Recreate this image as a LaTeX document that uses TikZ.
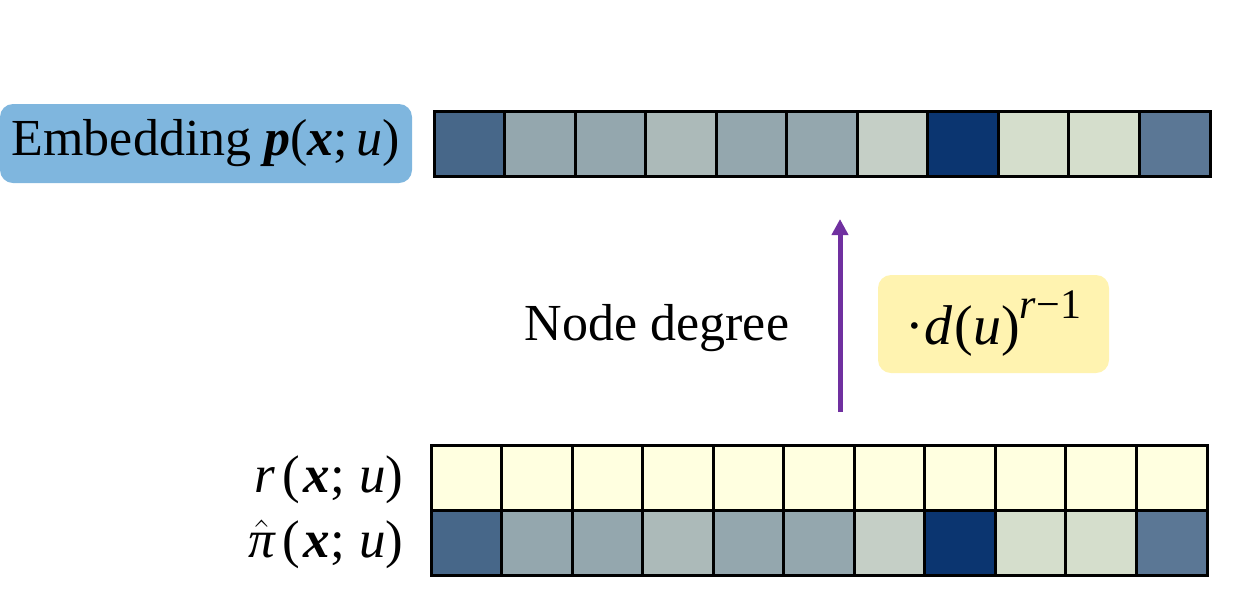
\documentclass[tikz,border=0pt]{standalone}
\usepackage{fontspec}
\setmainfont{Liberation Serif}
\usetikzlibrary{arrows.meta}

\definecolor{cA}{HTML}{476789}
\definecolor{cB}{HTML}{94A7AE}
\definecolor{cC}{HTML}{ACBAB9}
\definecolor{cD}{HTML}{C5CFC6}
\definecolor{cE}{HTML}{0B3570}
\definecolor{cF}{HTML}{D5DECC}
\definecolor{cG}{HTML}{5B7795}
\definecolor{resid}{HTML}{FFFFE0}
\definecolor{embblue}{HTML}{7FB6DE}
\definecolor{degyellow}{HTML}{FFF3B0}
\definecolor{arrowpurple}{HTML}{7030A0}

\newcommand{\bx}{\textbf{\textit{x}}}
\newcommand{\bp}{\textbf{\textit{p}}}

\tikzset{
  cell/.style={draw=black, line width=1.5pt, anchor=north west,
    minimum width=35.27pt, minimum height=32.5pt, inner sep=0pt, outer sep=0pt},
  tag/.style={font=\fontsize{26}{30}\selectfont, inner sep=0pt},
  rowtag/.style={font=\fontsize{26.5}{30}\selectfont, inner sep=0pt, anchor=base east},
  tagbox/.style={tag, rounded corners=6.5pt, inner sep=0pt},
  flow/.style={draw=arrowpurple, line width=2.5pt,
    -{Triangle[width=8pt,length=8pt]}}
}

\begin{document}
\begin{tikzpicture}[x=0.5pt, y=-0.5pt]
  \useasboundingbox (0,0) rectangle (1248,612);

  % embedding vector p(x;u)
  \foreach \c [count=\i from 0] in {cA,cB,cB,cC,cB,cB,cD,cE,cF,cF,cG}
    \node[cell, fill=\c] (p\i) at ({434+70.55*\i},111) {};

  % residual vector r(x;u)
  \foreach \i in {0,...,10}
    \node[cell, fill=resid] (r\i) at ({431+70.55*\i},445) {};

  % estimate vector pi(x;u)
  \foreach \c [count=\i from 0] in {cA,cB,cB,cC,cB,cB,cD,cE,cF,cF,cG}
    \node[cell, fill=\c] (e\i) at ({431+70.55*\i},510.5) {};

  % labels
  \node[tagbox, fill=embblue, minimum width=206pt, minimum height=39.5pt]
    (emb) at (206,143.5) {Embedding \bp(\bx;\,\textit{u})};
  \node[rowtag] (rlab) at (404,492)
    {\textit{r}\kern4pt(\kern1.5pt\bx;\;\textit{u})};
  \node[rowtag] (pilab) at (404,557)
    {$\hat{\mbox{\fontsize{26.5}{30}\selectfont\itshape π}}$\kern4pt(\kern1.5pt\bx;\;\textit{u})};

  % degree rescaling step
  \coordinate (tail) at (840,412);
  \coordinate (head) at (840,219);
  \draw[flow] (tail) -- (head);
  \node[tag, anchor=base] (deg) at (657,340) {Node degree};
  \node[tagbox, fill=degyellow, minimum width=115.5pt, minimum height=49pt,
        font=\fontsize{28}{32}\selectfont]
    (scale) at (993.5,324)
    {·\textit{d}\kern1pt(\textit{u})\raisebox{13pt}{\fontsize{21}{24}\selectfont\textit{r}−1}};
\end{tikzpicture}
\end{document}
